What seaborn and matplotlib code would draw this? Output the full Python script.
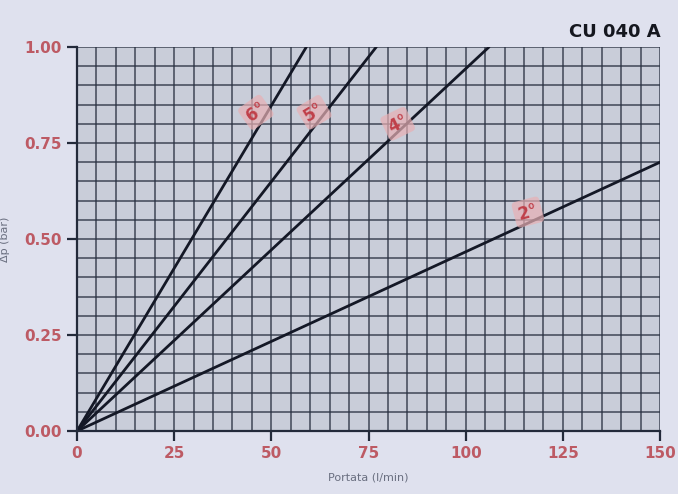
import numpy as np
import pandas as pd
import matplotlib
matplotlib.use("Agg")
import matplotlib.pyplot as plt
import seaborn as sns

# Characteristic lines: each runs from the origin to its end point
curve_labels = ["6°", "5°", "4°", "2°"]
x_end = [59.0, 77.0, 106.0, 150.0]
y_end = [1.00, 1.00, 1.00, 0.70]
label_x = [46.0, 61.0, 82.5, 116.0]
label_y = [0.83, 0.83, 0.80, 0.57]

x_ticks = [0, 25, 50, 75, 100, 125, 150]
y_ticks = [0.00, 0.25, 0.50, 0.75, 1.00]
y_tick_labels = ["0.00", "0.25", "0.50", "0.75", "1.00"]

rows = []
for lab, xe, ye in zip(curve_labels, x_end, y_end):
    rows.append({"curve": lab, "x": 0.0, "y": 0.0})
    rows.append({"curve": lab, "x": xe, "y": ye})
df = pd.DataFrame(rows)

sns.set_theme(style="white")
plt.rcParams["font.family"] = ["DejaVu Sans"]

fig = plt.figure(figsize=(6.78, 4.94), dpi=100)
fig.patch.set_facecolor("#dfe1ee")
ax = fig.add_axes([0.1136, 0.1275, 0.8599, 0.7774])
ax.set_facecolor("#c9cdd9")

ax.set_xlim(0, 150)
ax.set_ylim(0, 1.0)

# fine grid: every 5 units along x, every 0.05 along y
ax.set_xticks(np.arange(0, 151, 5), minor=True)
ax.set_yticks(np.arange(0, 1.001, 0.05), minor=True)
ax.grid(which="minor", color="#2a3142", linewidth=1.2, alpha=0.8)
ax.grid(which="major", color="#2a3142", linewidth=1.2, alpha=0.8)
ax.tick_params(which="minor", length=0)

sns.lineplot(data=df, x="x", y="y", units="curve", estimator=None,
             color="#141826", linewidth=2.0, ax=ax, legend=False)

for lab, lx, ly, xe, ye in zip(curve_labels, label_x, label_y, x_end, y_end):
    ang = np.degrees(np.arctan2(ye * 0.7774 * 4.94, xe / 150 * 0.8599 * 6.78))
    ax.text(lx, ly, lab, color="#c0404a", fontsize=12, fontweight="bold",
            ha="center", va="center", rotation=ang * 0.6,
            bbox=dict(boxstyle="round,pad=0.25", fc="#e8b0b4", ec="none", alpha=0.7))

ax.set_xticks(x_ticks)
ax.set_xticklabels([str(v) for v in x_ticks])
ax.set_yticks(y_ticks)
ax.set_yticklabels(y_tick_labels)
ax.tick_params(which="major", direction="out", length=7, width=1.6,
               color="#232a3a", labelsize=11, labelcolor="#bd5a64", pad=4,
               bottom=True, left=True)
for t in ax.get_xticklabels() + ax.get_yticklabels():
    t.set_fontweight("bold")

for side, sp in ax.spines.items():
    sp.set_visible(side in ("left", "bottom"))
    sp.set_color("#232a3a")
    sp.set_linewidth(1.6)

ax.set_xlabel("Portata (l/min)", fontsize=8, color="#6a6f80", labelpad=8)
ax.set_ylabel("Δp (bar)", fontsize=8, color="#6a6f80")
ax.yaxis.set_label_coords(-0.115, 0.5)

fig.text(0.975, 0.935, "CU 040 A", ha="right", va="center",
         fontsize=13, fontweight="bold", color="#15171f")

fig.savefig("out.png", dpi=100, facecolor=fig.get_facecolor())
